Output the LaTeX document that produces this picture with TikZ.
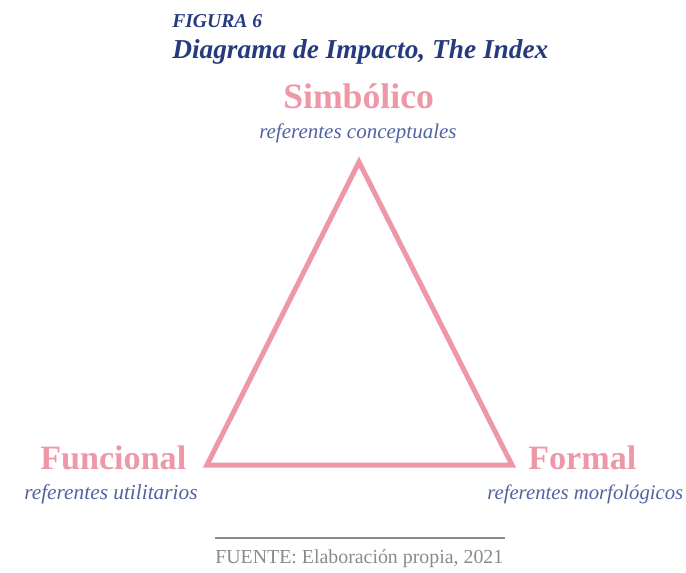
\documentclass[tikz,border=0pt]{standalone}
\usepackage{fontspec}
\setmainfont{Liberation Serif}
\definecolor{titleblue}{HTML}{263A7E}
\definecolor{pinkc}{HTML}{EE97A6}
\definecolor{subblue}{HTML}{5263A1}
\definecolor{grayc}{HTML}{8A8A8A}
\begin{document}
\begin{tikzpicture}[x=0.75pt,y=-0.75pt,
  lbl/.style={inner sep=0pt,anchor=base west},
  title/.style={lbl,text=titleblue,font=\bfseries\itshape},
  head/.style={lbl,text=pinkc,font=\bfseries},
  sub/.style={lbl,text=subblue,font=\itshape},
  src/.style={lbl,text=grayc},
  tri/.style={draw=pinkc,line width=3.75pt,line join=miter}]
\useasboundingbox (0,0) rectangle (686,572);
\coordinate (A) at (359,162);
\coordinate (B) at (207,465);
\coordinate (C) at (512,465);
\draw[tri] (A) -- (B) -- (C) -- cycle;
\node[title] (fig) at (172,27) {\resizebox{67.5pt}{!}{FIGURA 6}};
\node[title] (ttl) at (172,58) {\resizebox{282pt}{!}{Diagrama de Impacto, The Index}};
\node[head] (simb) at (283,108) {\resizebox{113pt}{!}{Simbólico}};
\node[sub] (simbs) at (259,138) {\resizebox{148pt}{!}{referentes conceptuales}};
\node[head] (func) at (40,469) {\resizebox{109.5pt}{!}{Funcional}};
\node[sub] (funcs) at (24,499) {\resizebox{130pt}{!}{referentes utilitarios}};
\node[head] (form) at (528,469) {\resizebox{81pt}{!}{Formal}};
\node[sub] (forms) at (487,499) {\resizebox{147pt}{!}{referentes morfológicos}};
\coordinate (r1) at (215,538);
\coordinate (r2) at (505,538);
\draw[grayc,line width=1.1pt] (r1) -- (r2);
\node[src] (fuente) at (215,563) {\resizebox{216pt}{!}{FUENTE: Elaboración propia, 2021}};
\end{tikzpicture}
\end{document}
